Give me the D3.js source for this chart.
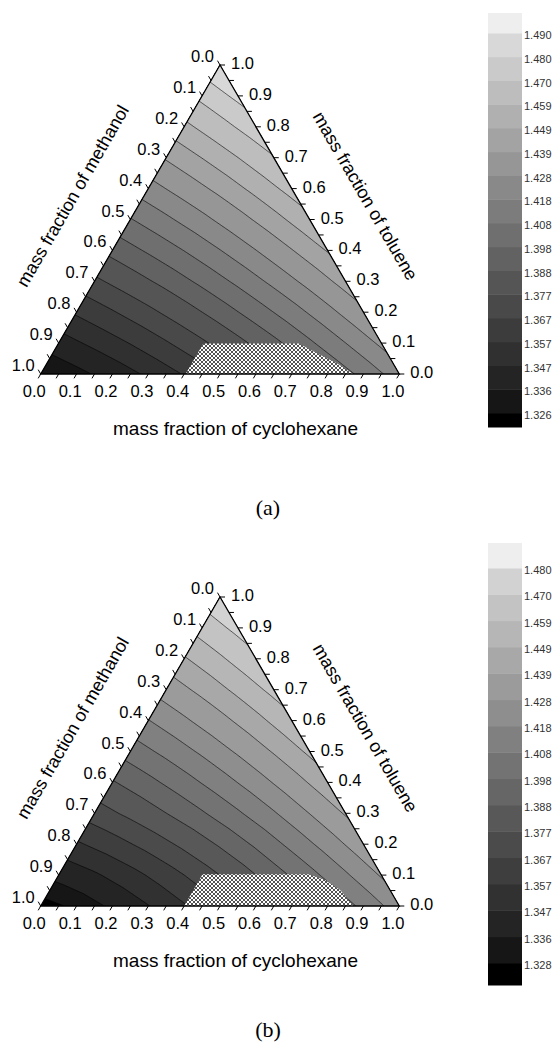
<!DOCTYPE html>
<html>
<head>
<meta charset="utf-8">
<script src="https://cdn.jsdelivr.net/npm/d3@7"></script>
<style>
  body { margin: 0; background: #fff; }
  svg { display: block; }
</style>
</head>
<body>
<div id="chart"></div>
<script>
// axis ticks (mass fraction)
const ticks = [0, 0.1, 0.2, 0.3, 0.4, 0.5, 0.6, 0.7, 0.8, 0.9, 1.0];
const minorTicks = [0.05, 0.15, 0.25, 0.35, 0.45, 0.55, 0.65, 0.75, 0.85, 0.95];

// contour levels (refractive index) as printed on the colour scales
const levelsA = [1.326, 1.336, 1.347, 1.357, 1.367, 1.377, 1.388, 1.398, 1.408, 1.418, 1.428, 1.439, 1.449, 1.459, 1.470, 1.480, 1.490];
const levelsB = [1.328, 1.336, 1.347, 1.357, 1.367, 1.377, 1.388, 1.398, 1.408, 1.418, 1.428, 1.439, 1.449, 1.459, 1.470, 1.480];

// band greys, darkest (below first level) to lightest
const greysA = ['#000000', '#161616', '#242424', '#303030', '#3c3c3c', '#494949', '#555555', '#626262', '#6f6f6f', '#7c7c7c', '#898989', '#969696', '#a3a3a3', '#b0b0b0', '#bdbdbd', '#cacaca', '#d8d8d8', '#eeeeee'];
const greysB = ['#000000', '#161616', '#242424', '#313131', '#3e3e3e', '#4b4b4b', '#585858', '#666666', '#737373', '#808080', '#8e8e8e', '#9b9b9b', '#a8a8a8', '#b6b6b6', '#c3c3c3', '#d2d2d2', '#eeeeee'];

// refractive index read at ternary nodes
// row k = toluene 0.k, column i = cyclohexane 0.i (methanol = rest)
const nodesA = [
  [1.3258, 1.3329, 1.3405, 1.3488, 1.3577, 1.3672, 1.3772, 1.3879, 1.3992, 1.4110, 1.4235],
  [1.3421, 1.3495, 1.3574, 1.3660, 1.3752, 1.3850, 1.3953, 1.4063, 1.4179, 1.4300],
  [1.3584, 1.3661, 1.3743, 1.3832, 1.3927, 1.4028, 1.4134, 1.4247, 1.4366],
  [1.3748, 1.3828, 1.3913, 1.4005, 1.4103, 1.4207, 1.4316, 1.4432],
  [1.3911, 1.3994, 1.4082, 1.4177, 1.4278, 1.4385, 1.4497],
  [1.4074, 1.4160, 1.4251, 1.4349, 1.4453, 1.4563],
  [1.4237, 1.4326, 1.4420, 1.4521, 1.4628],
  [1.4400, 1.4492, 1.4589, 1.4693],
  [1.4564, 1.4659, 1.4759],
  [1.4727, 1.4825],
  [1.4890]
];
const nodesB = [
  [1.3245, 1.3298, 1.3378, 1.3466, 1.3560, 1.3661, 1.3762, 1.3870, 1.3984, 1.4106, 1.4235],
  [1.3390, 1.3455, 1.3533, 1.3621, 1.3718, 1.3823, 1.3935, 1.4046, 1.4165, 1.4290],
  [1.3555, 1.3625, 1.3705, 1.3795, 1.3893, 1.3997, 1.4108, 1.4223, 1.4345],
  [1.3719, 1.3795, 1.3879, 1.3969, 1.4066, 1.4170, 1.4282, 1.4400],
  [1.3871, 1.3951, 1.4038, 1.4132, 1.4232, 1.4340, 1.4455],
  [1.4024, 1.4107, 1.4197, 1.4294, 1.4399, 1.4510],
  [1.4176, 1.4263, 1.4356, 1.4457, 1.4565],
  [1.4328, 1.4418, 1.4516, 1.4620],
  [1.4480, 1.4574, 1.4675],
  [1.4633, 1.4730],
  [1.4785]
];

// two-phase (hatched) region, [cyclohexane, toluene]
const hatchA = [[0.404, 0], [0.404, 0.099], [0.670, 0.099], [0.742, 0.065], [0.808, 0.035], [0.872, 0]];
const hatchB = [[0.400, 0], [0.400, 0.103], [0.695, 0.103], [0.751, 0.084], [0.809, 0.052], [0.872, 0]];

const W = 358.6, H = 309, BLX = 40.7, BASEY = 374;
const fmt1 = d3.format('.1f'), fmt3 = d3.format('.3f');

const svg = d3.select('#chart').append('svg')
  .attr('width', 560)
  .attr('height', 1054)
  .style('font-family', '"Liberation Sans", Arial, sans-serif');

const defs = svg.append('defs');
const pat = defs.append('pattern')
  .attr('id', 'hatch')
  .attr('patternUnits', 'userSpaceOnUse')
  .attr('width', 4)
  .attr('height', 4);
pat.append('rect').attr('width', 4).attr('height', 4).attr('fill', '#fff');
pat.append('path').attr('d', 'M0,0L4,4M4,0L0,4M-1,3L1,5M3,-1L5,1M3,5L5,3M-1,1L1,-1')
  .attr('stroke', '#1a1a1a').attr('stroke-width', 0.75);

// linear interpolation inside the node triangles
function field(nodes, c, t) {
  let gi = c * 10, gj = t * 10;
  let i0 = Math.min(Math.floor(gi), 9), j0 = Math.min(Math.floor(gj), 9);
  let fi = gi - i0, fj = gj - j0;
  const v = (i, j) => nodes[j][i];
  if (fi + fj <= 1 || i0 + j0 + 2 > 10) {
    const a = v(i0, j0);
    const b = i0 + 1 + j0 <= 10 ? v(i0 + 1, j0) : a;
    const d = i0 + j0 + 1 <= 10 ? v(i0, j0 + 1) : a;
    return a * (1 - fi - fj) + b * fi + d * fj;
  }
  return v(i0 + 1, j0 + 1) * (fi + fj - 1) + v(i0 + 1, j0) * (1 - fj) + v(i0, j0 + 1) * (1 - fi);
}

const panels = [
  { dy: 0, nodes: nodesA, levels: levelsA, greys: greysA, hatch: hatchA,
    barTop: 13, barBottom: 427, edgeLow: 413, edgeHigh: 33, label: '(a)', labelY: 515 },
  { dy: 532, nodes: nodesB, levels: levelsB, greys: greysB, hatch: hatchB,
    barTop: 543, barBottom: 985, edgeLow: 963, edgeHigh: 568, label: '(b)', labelY: 1037 }
];

panels.forEach((p, k) => drawPanel(p, k));

function drawPanel(p, k) {
  const g = svg.append('g').attr('transform', `translate(0,${p.dy})`);
  const px = (c, t) => BLX + W * (c + t / 2);
  const py = t => BASEY - H * t;

  // grid of the field in (cyclohexane, toluene) space
  const N = 201;
  const values = new Float64Array(N * N);
  for (let j = 0; j < N; j++) {
    for (let i = 0; i < N; i++) {
      let c = i / (N - 1), t = j / (N - 1);
      const s = c + t;
      if (s > 1) { c /= s; t /= s; }
      values[j * N + i] = field(p.nodes, c, t);
    }
  }
  const contours = d3.contours().size([N, N]).thresholds(p.levels)(values);
  const proj = d3.geoTransform({
    point(u, v) {
      const c = (u - 0.5) / (N - 1), t = (v - 0.5) / (N - 1);
      this.stream.point(px(c, t), py(t));
    }
  });
  const path = d3.geoPath(proj);

  const tri = [[0, 0], [1, 0], [0, 1]].map(([c, t]) => [px(c, t), py(t)]);
  const triD = 'M' + tri.map(d => d.join(',')).join('L') + 'Z';
  defs.append('clipPath').attr('id', 'clip' + k).append('path').attr('d', triD);

  const plot = g.append('g').attr('clip-path', `url(#clip${k})`);
  plot.append('path').attr('d', triD).attr('fill', p.greys[0]);
  plot.selectAll('path.band')
    .data(contours)
    .join('path')
    .attr('class', 'band')
    .attr('d', path)
    .attr('fill', (d, i) => p.greys[i + 1]);
  plot.selectAll('path.iso')
    .data(contours)
    .join('path')
    .attr('class', 'iso')
    .attr('d', path)
    .attr('fill', 'none')
    .attr('stroke', '#000')
    .attr('stroke-width', 0.6);
  plot.append('path')
    .attr('d', 'M' + p.hatch.map(([c, t]) => [px(c, t), py(t)].join(',')).join('L') + 'Z')
    .attr('fill', 'url(#hatch)');

  g.append('path').attr('d', triD)
    .attr('fill', 'none').attr('stroke', '#000').attr('stroke-width', 1.3).attr('stroke-linejoin', 'miter');

  // ticks
  const allTicks = ticks.concat(minorTicks);
  const tk = g.append('g').attr('stroke', '#000').attr('stroke-width', 1);
  const L = 5;
  allTicks.forEach(v => {
    // bottom: cyclohexane
    let x0 = px(v, 0), y0 = py(0);
    tk.append('line').attr('x1', x0).attr('y1', y0).attr('x2', x0 - 0.5 * L).attr('y2', y0 + 0.866 * L);
    // left: methanol (0 at top)
    x0 = px(0, 1 - v); y0 = py(1 - v);
    tk.append('line').attr('x1', x0).attr('y1', y0).attr('x2', x0 - 0.5 * L).attr('y2', y0 - 0.866 * L);
    // right: toluene
    x0 = px(1 - v, v); y0 = py(v);
    tk.append('line').attr('x1', x0).attr('y1', y0).attr('x2', x0 + L).attr('y2', y0);
  });

  const lab = g.append('g').attr('font-size', 16.5).attr('fill', '#000');
  ticks.forEach(v => {
    lab.append('text').attr('x', px(v, 0) - 6.4).attr('y', py(0) + 23)
      .attr('text-anchor', 'middle').text(fmt1(v));
    lab.append('text').attr('x', px(0, 1 - v) - 6).attr('y', py(1 - v) - 3)
      .attr('text-anchor', 'end').text(fmt1(v));
    lab.append('text').attr('x', px(1 - v, v) + 11).attr('y', py(v) + 4)
      .attr('text-anchor', 'start').text(fmt1(v));
  });

  // axis titles
  g.append('text').attr('x', 235.5).attr('y', 435).attr('text-anchor', 'middle')
    .attr('font-size', 19).text('mass fraction of cyclohexane');
  g.append('text').attr('transform', 'translate(78,199) rotate(-60)').attr('text-anchor', 'middle')
    .attr('font-size', 18).text('mass fraction of methanol');
  g.append('text').attr('transform', 'translate(360,199) rotate(60)').attr('text-anchor', 'middle')
    .attr('font-size', 18).text('mass fraction of toluene');

  // colour scale: level i is the edge between band i and band i+1
  const n = p.levels.length;
  const ye = d3.scaleLinear().domain([0, n - 1]).range([p.edgeLow - p.dy, p.edgeHigh - p.dy]);
  const edge = i => i < 0 ? p.barBottom - p.dy : i >= n ? p.barTop - p.dy : ye(i);
  const bar = g.append('g');
  bar.selectAll('rect')
    .data(d3.range(n + 1))
    .join('rect')
    .attr('x', 488)
    .attr('y', i => edge(i))
    .attr('width', 34)
    .attr('height', i => edge(i - 1) - edge(i) + 0.5)
    .attr('fill', i => p.greys[i]);
  bar.selectAll('text')
    .data(p.levels)
    .join('text')
    .attr('x', 524)
    .attr('y', (d, i) => ye(i) + 6)
    .attr('font-size', 11)
    .attr('fill', '#333')
    .text(d => fmt3(d));

  svg.append('text')
    .attr('x', 268)
    .attr('y', p.labelY)
    .attr('text-anchor', 'middle')
    .attr('font-family', '"Liberation Serif", "Times New Roman", serif')
    .attr('font-size', 22)
    .text(p.label);
}
</script>
</body>
</html>
